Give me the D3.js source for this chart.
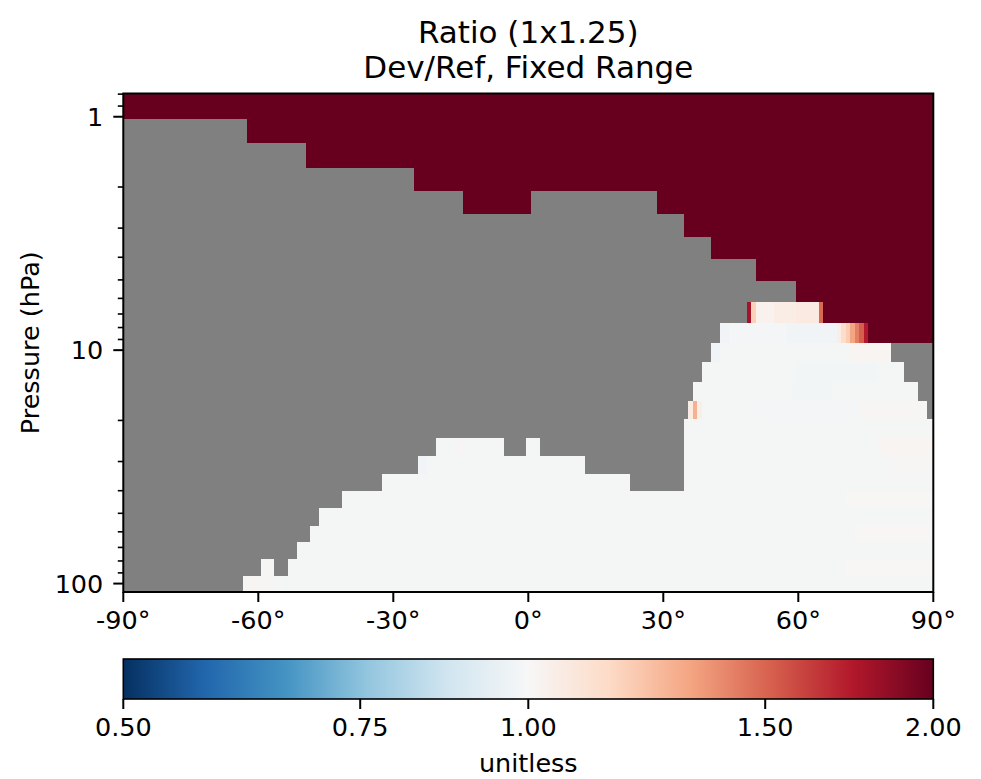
<!DOCTYPE html>
<html><head><meta charset="utf-8">
<script src="https://cdn.jsdelivr.net/npm/d3@7"></script>
<style>
body{margin:0;background:#fff}
text{font-family:"DejaVu Sans",sans-serif;fill:#000}
</style>
</head><body><svg id="chart" width="981" height="779"></svg>
<script>
// ---- data ----
const titleLines = ["Ratio (1x1.25)", "Dev/Ref, Fixed Range"];
const yLabel = "Pressure (hPa)";
const cbarLabel = "unitless";
// pressure level edges (hPa), top to bottom
const pressureEdges = [0.7951, 1.0194, 1.3005, 1.6508, 2.0850, 2.6202, 3.2764, 4.0766, 5.0468,
  6.2168, 7.6198, 9.2929, 11.2769, 13.6434, 16.4571, 19.7916, 23.7304, 28.3678, 33.8100,
  40.1754, 47.6439, 56.3879, 66.6034, 78.5123, 92.3657, 108.663];
const latMin = -90, latMax = 90;
const HI = 2.5; // values above the colour range
// per pressure row: runs of [firstLat, lastLat, ratio]; null = no data
const rowRuns = [
  [[-90,90,HI]],
  [[-90,-63,null],[-62,90,HI]],
  [[-90,-50,null],[-49,90,HI]],
  [[-90,-26,null],[-25,90,HI]],
  [[-90,-15,null],[-14,0,HI],[1,28,null],[29,90,HI]],
  [[-90,34,null],[35,90,HI]],
  [[-90,40,null],[41,90,HI]],
  [[-90,50,null],[51,90,HI]],
  [[-90,59,null],[60,90,HI]],
  [[-90,48,null],[49,49,1.79],[50,50,1.18],[51,54,1.03],[55,59,1.05],[60,64,1.065],[65,65,1.49],[66,90,HI]],
  [[-90,42,null],[43,44,0.98],[45,57,0.985],[58,68,0.976],[69,69,1.05],[70,70,1.13],[71,71,1.19],[72,72,1.32],[73,73,1.42],[74,74,1.52],[75,75,1.74],[76,90,HI]],
  [[-90,40,null],[41,42,0.975],[43,71,0.99],[72,80,1.015],[81,90,null]],
  [[-90,38,null],[39,59,0.99],[60,77,0.982],[78,83,0.99],[84,90,null]],
  [[-90,36,null],[37,58,0.99],[59,67,0.982],[68,86,0.99],[87,90,null]],
  [[-90,35,null],[36,36,1.06],[37,37,1.28],[38,38,1.04],[39,50,0.99],[51,73,0.985],[74,88,1.01],[89,90,null]],
  [[-90,34,null],[35,90,0.99]],
  [[-90,-21,null],[-20,-17,0.99],[-16,-15,1.01],[-14,-6,0.99],[-5,-1,null],[0,2,0.99],[3,34,null],[35,77,0.99],[78,90,1.015]],
  [[-90,-25,null],[-24,-23,0.975],[-22,12,0.99],[13,34,null],[35,80,0.99],[81,90,1.01]],
  [[-90,-33,null],[-32,22,0.99],[23,34,null],[35,90,0.99]],
  [[-90,-42,null],[-41,70,0.99],[71,90,1.005]],
  [[-90,-47,null],[-46,90,0.99]],
  [[-90,-49,null],[-48,72,0.99],[73,90,1.005]],
  [[-90,-52,null],[-51,90,0.99]],
  [[-90,-60,null],[-59,-57,1.01],[-56,-54,null],[-53,70,0.99],[71,90,1.005]],
  [[-90,-64,null],[-63,-57,1.01],[-56,90,0.99]]
];
const xTicks = [-90,-60,-30,0,30,60,90];
const xTickLabels = ["-90°","-60°","-30°","0°","30°","60°","90°"];
const yMajorTicks = [1,10,100];
const yTickLabels = ["1","10","100"];
const cbarDomain = [0.5, 2];
const cbarTicks = [0.5,0.75,1,1.5,2];
const cbarTickLabels = ["0.50","0.75","1.00","1.50","2.00"];
const rdbuR = ["#053061","#2166ac","#4393c3","#92c5de","#d1e5f0","#f7f7f7","#fddbc7","#f4a582","#d6604d","#b2182b","#67001f"];
const nanColor = "#808080";

// ---- layout ----
const plot = {left:123.3, right:933.3, top:93.5, bottom:592};
const cbar = {top:659, bottom:699};
const FS = 25.5, TFS = 31;

const svg = d3.select("#chart");
const x = d3.scaleLinear().domain([latMin, latMax]).range([plot.left, plot.right]);
const y = d3.scaleLog().domain([pressureEdges[0], pressureEdges[pressureEdges.length-1]]).range([plot.top, plot.bottom]);
const tStops = d3.range(rdbuR.length).map(i => i/(rdbuR.length-1));
const cmap = d3.scaleLinear().domain(tStops).range(rdbuR).interpolate(d3.interpolateRgb).clamp(true);
const norm = d3.scaleLog().domain(cbarDomain).range([0,1]).clamp(true);
const color = v => v == null ? nanColor : cmap(norm(v));

// expand runs into cells
const cells = [];
rowRuns.forEach((runs, r) => {
  runs.forEach(([a, b, v]) => {
    for (let lat = a; lat <= b; lat++) cells.push({r, lat, v});
  });
});

svg.append("clipPath").attr("id","clip").append("rect")
  .attr("x", plot.left).attr("y", plot.top)
  .attr("width", plot.right-plot.left).attr("height", plot.bottom-plot.top);

svg.append("g").attr("clip-path","url(#clip)").attr("shape-rendering","crispEdges")
  .selectAll("rect").data(cells).join("rect")
  .attr("x", d => x(d.lat-0.5))
  .attr("width", d => x(d.lat+0.5)-x(d.lat-0.5))
  .attr("y", d => y(pressureEdges[d.r]))
  .attr("height", d => y(pressureEdges[d.r+1]) - y(pressureEdges[d.r]))
  .attr("fill", d => color(d.v));

// frame
svg.append("rect").attr("x", plot.left).attr("y", plot.top)
  .attr("width", plot.right-plot.left).attr("height", plot.bottom-plot.top)
  .attr("fill","none").attr("stroke","#000").attr("stroke-width",2);

// x axis
const gx = svg.append("g");
xTicks.forEach((t,i) => {
  gx.append("line").attr("x1",x(t)).attr("x2",x(t)).attr("y1",plot.bottom).attr("y2",plot.bottom+10)
    .attr("stroke","#000").attr("stroke-width",2);
  gx.append("text").attr("x",x(t)).attr("y",plot.bottom+37).attr("text-anchor","middle")
    .style("font-size",FS+"px").text(xTickLabels[i]);
});

// y axis
const gy = svg.append("g");
const minor = y.ticks().filter(t => !yMajorTicks.includes(t));
minor.forEach(t => {
  gy.append("line").attr("x1",plot.left-5.5).attr("x2",plot.left).attr("y1",y(t)).attr("y2",y(t))
    .attr("stroke","#000").attr("stroke-width",1.6);
});
yMajorTicks.forEach((t,i) => {
  gy.append("line").attr("x1",plot.left-10).attr("x2",plot.left).attr("y1",y(t)).attr("y2",y(t))
    .attr("stroke","#000").attr("stroke-width",2);
  gy.append("text").attr("x",plot.left-20).attr("y",y(t)).attr("dy","0.36em").attr("text-anchor","end")
    .style("font-size",FS+"px").text(yTickLabels[i]);
});
svg.append("text").attr("transform",`translate(39,${(plot.top+plot.bottom)/2}) rotate(-90)`)
  .attr("text-anchor","middle").style("font-size",FS+"px").text(yLabel);

// title
titleLines.forEach((s,i) => {
  svg.append("text").attr("x",(plot.left+plot.right)/2).attr("y",43+i*35)
    .attr("text-anchor","middle").style("font-size",TFS+"px").text(s);
});

// colorbar
const cx = d3.scaleLog().domain(cbarDomain).range([plot.left, plot.right]);
const grad = svg.append("defs").append("linearGradient").attr("id","cbgrad")
  .attr("x1","0%").attr("x2","100%").attr("y1","0%").attr("y2","0%");
grad.selectAll("stop").data(tStops).join("stop")
  .attr("offset", t => (t*100)+"%").attr("stop-color", t => cmap(t));
svg.append("rect").attr("x",plot.left).attr("y",cbar.top)
  .attr("width",plot.right-plot.left).attr("height",cbar.bottom-cbar.top)
  .attr("fill","url(#cbgrad)").attr("stroke","#000").attr("stroke-width",1.6);
cbarTicks.forEach((t,i) => {
  svg.append("line").attr("x1",cx(t)).attr("x2",cx(t)).attr("y1",cbar.bottom).attr("y2",cbar.bottom+10)
    .attr("stroke","#000").attr("stroke-width",2);
  svg.append("text").attr("x",cx(t)).attr("y",cbar.bottom+37).attr("text-anchor","middle")
    .style("font-size",FS+"px").text(cbarTickLabels[i]);
});
svg.append("text").attr("x",(plot.left+plot.right)/2).attr("y",772).attr("text-anchor","middle")
  .style("font-size",FS+"px").text(cbarLabel);
</script>
</body></html>
